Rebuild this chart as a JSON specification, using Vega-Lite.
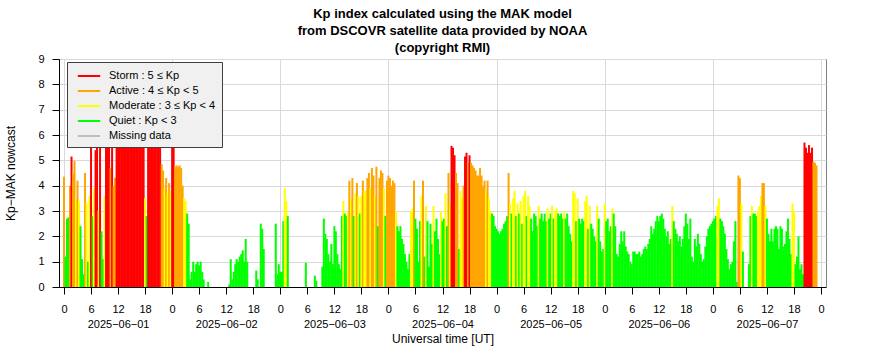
{
"$schema": "https://vega.github.io/schema/vega-lite/v6.json",
"width": 767,
"height": 228,
"autosize": {"type": "none"},
"padding": {"left": 59, "top": 59, "right": 60, "bottom": 73},
"background": "white",
"title": {
  "text": ["Kp index calculated using the MAK model", "from DSCOVR satellite data provided by NOAA", "(copyright RMI)"],
  "font": "Liberation Sans", "fontSize": 13, "fontWeight": "bold", "color": "#000000",
  "lineHeight": 17, "anchor": "middle", "baseline": "bottom", "offset": -15
},
"layer": [
  {
    "data": {"values": [
{"h":0,"kp":4.35},{"h":0.33,"kp":1.2},{"h":0.67,"kp":2.7},
{"h":1,"kp":2.75},{"h":1.33,"kp":4.0},{"h":1.67,"kp":5.15},
{"h":2,"kp":4.5},{"h":2.33,"kp":4.98},{"h":2.67,"kp":3.5},
{"h":3,"kp":4.2},{"h":3.33,"kp":3.4},{"h":3.67,"kp":2.4},
{"h":4,"kp":1.1},{"h":4.33,"kp":0.5},{"h":4.67,"kp":4.5},
{"h":5,"kp":3.35},{"h":5.33,"kp":1.0},{"h":5.67,"kp":3.6},
{"h":6,"kp":6.2},{"h":6.33,"kp":2.8},{"h":6.67,"kp":3.9},
{"h":7,"kp":5.4},{"h":7.33,"kp":6.3},{"h":7.67,"kp":3.0},
{"h":8,"kp":6.1},{"h":8.33,"kp":2.2},{"h":8.67,"kp":1.1},
{"h":9,"kp":3.6},{"h":9.33,"kp":6.0},{"h":9.67,"kp":6.4},
{"h":10,"kp":6.3},{"h":10.33,"kp":4.7},{"h":10.67,"kp":6.0},
{"h":11,"kp":4.0},{"h":11.33,"kp":4.3},{"h":11.67,"kp":6.5},
{"h":12,"kp":6.6},{"h":12.33,"kp":6.9},{"h":12.67,"kp":7.1},
{"h":13,"kp":7.0},{"h":13.33,"kp":6.8},{"h":13.67,"kp":7.2},
{"h":14,"kp":7.4},{"h":14.33,"kp":7.1},{"h":14.67,"kp":6.9},
{"h":15,"kp":7.3},{"h":15.33,"kp":7.0},{"h":15.67,"kp":6.7},
{"h":16,"kp":6.8},{"h":16.33,"kp":6.5},{"h":16.67,"kp":6.9},
{"h":17,"kp":6.6},{"h":17.33,"kp":6.3},{"h":17.67,"kp":6.1},
{"h":18,"kp":3.5},{"h":18.33,"kp":2.8},{"h":18.67,"kp":6.3},
{"h":19,"kp":6.5},{"h":19.33,"kp":6.8},{"h":19.67,"kp":7.1},
{"h":20,"kp":6.9},{"h":20.33,"kp":6.6},{"h":20.67,"kp":6.3},
{"h":21,"kp":6.2},{"h":21.33,"kp":6.0},{"h":21.67,"kp":4.85},
{"h":22,"kp":4.6},{"h":22.33,"kp":3.9},{"h":22.67,"kp":4.3},
{"h":23,"kp":3.7},{"h":23.33,"kp":4.1},{"h":23.67,"kp":3.8},
{"h":24,"kp":6.0},{"h":24.33,"kp":5.8},{"h":24.67,"kp":4.75},
{"h":25,"kp":4.8},{"h":25.33,"kp":4.75},{"h":25.67,"kp":4.8},
{"h":26,"kp":4.7},{"h":26.33,"kp":4.0},{"h":26.67,"kp":3.5},
{"h":27,"kp":3.4},{"h":27.33,"kp":2.9},{"h":27.67,"kp":2.5},
{"h":28,"kp":0.3},{"h":28.33,"kp":0.6},{"h":28.67,"kp":1.0},
{"h":29,"kp":0.6},{"h":29.33,"kp":0.9},{"h":29.67,"kp":1.0},
{"h":30,"kp":0.85},{"h":30.33,"kp":1.0},{"h":30.67,"kp":0.6},
{"h":31,"kp":0.3},
{"h":32,"kp":0.2},
{"h":36.67,"kp":0.1},
{"h":37,"kp":1.1},{"h":37.33,"kp":0.3},{"h":37.67,"kp":0.6},
{"h":38,"kp":0.9},{"h":38.33,"kp":1.1},{"h":38.67,"kp":1.0},
{"h":39,"kp":1.2},{"h":39.33,"kp":1.3},{"h":39.67,"kp":1.45},
{"h":40,"kp":1.0},{"h":40.33,"kp":1.9},{"h":40.67,"kp":1.0},
{"h":42.67,"kp":0.65},
{"h":43,"kp":0.3},{"h":43.67,"kp":2.5},
{"h":44,"kp":2.3},{"h":44.33,"kp":1.5},
{"h":47,"kp":2.5},{"h":47.33,"kp":0.5},{"h":47.67,"kp":0.9},
{"h":48,"kp":0.6},{"h":48.33,"kp":0.6},{"h":48.67,"kp":2.6},
{"h":49,"kp":3.9},{"h":49.33,"kp":3.4},{"h":49.67,"kp":2.8},
{"h":53.67,"kp":0.95},
{"h":55.67,"kp":0.45},
{"h":56,"kp":0.25},
{"h":57.33,"kp":0.8},{"h":57.67,"kp":2.7},
{"h":58,"kp":2.1},{"h":58.33,"kp":1.9},{"h":58.67,"kp":1.3},
{"h":59,"kp":1.0},{"h":59.33,"kp":1.7},{"h":59.67,"kp":0.9},
{"h":60,"kp":2.4},{"h":60.33,"kp":2.2},{"h":60.67,"kp":1.3},
{"h":61,"kp":0.9},{"h":61.33,"kp":0.7},{"h":61.67,"kp":2.8},
{"h":62,"kp":3.4},{"h":62.33,"kp":2.9},{"h":62.67,"kp":2.8},
{"h":63,"kp":3.0},{"h":63.33,"kp":4.2},{"h":63.67,"kp":3.5},
{"h":64,"kp":4.3},{"h":64.33,"kp":2.8},{"h":64.67,"kp":3.7},
{"h":65,"kp":4.1},{"h":65.33,"kp":3.6},{"h":65.67,"kp":2.9},
{"h":66,"kp":3.6},{"h":66.33,"kp":4.2},{"h":66.67,"kp":3.8},
{"h":67,"kp":3.8},{"h":67.33,"kp":4.3},{"h":67.67,"kp":4.5},
{"h":68,"kp":3.9},{"h":68.33,"kp":4.7},{"h":68.67,"kp":4.4},
{"h":69,"kp":3.6},{"h":69.33,"kp":4.75},{"h":69.67,"kp":2.4},
{"h":70,"kp":4.3},{"h":70.33,"kp":4.6},{"h":70.67,"kp":4.5},
{"h":71,"kp":3.9},{"h":71.33,"kp":2.8},{"h":71.67,"kp":4.2},
{"h":72,"kp":4.4},{"h":72.33,"kp":4.3},{"h":72.67,"kp":4.0},
{"h":73,"kp":4.2},{"h":73.33,"kp":4.1},{"h":73.67,"kp":3.0},
{"h":74,"kp":2.4},{"h":74.33,"kp":2.2},{"h":74.67,"kp":2.4},
{"h":75,"kp":1.9},{"h":75.33,"kp":1.7},{"h":75.67,"kp":1.3},
{"h":76,"kp":1.0},{"h":76.33,"kp":0.7},{"h":76.67,"kp":1.3},
{"h":77,"kp":3.0},{"h":77.33,"kp":3.1},{"h":77.67,"kp":4.2},
{"h":78,"kp":2.7},{"h":78.33,"kp":2.3},{"h":78.67,"kp":1.0},
{"h":79,"kp":2.6},{"h":79.33,"kp":3.6},{"h":79.67,"kp":4.2},
{"h":80,"kp":1.2},{"h":80.33,"kp":3.2},{"h":80.67,"kp":2.6},
{"h":81,"kp":0.8},{"h":81.33,"kp":2.5},{"h":81.67,"kp":1.7},
{"h":82,"kp":3.2},{"h":82.33,"kp":2.2},{"h":82.67,"kp":2.7},
{"h":83,"kp":1.9},{"h":83.33,"kp":1.3},{"h":83.67,"kp":3.0},
{"h":84,"kp":2.6},{"h":84.33,"kp":2.7},{"h":84.67,"kp":3.7},
{"h":85,"kp":2.4},{"h":85.33,"kp":4.5},{"h":85.67,"kp":3.3},
{"h":86,"kp":5.57},{"h":86.33,"kp":5.5},{"h":86.67,"kp":5.2},
{"h":87,"kp":4.5},{"h":87.33,"kp":4.1},{"h":87.67,"kp":1.5},
{"h":88,"kp":3.8},{"h":88.33,"kp":3.5},{"h":88.67,"kp":4.0},
{"h":89,"kp":5.15},{"h":89.33,"kp":5.3},{"h":89.67,"kp":4.9},
{"h":90,"kp":5.2},{"h":90.33,"kp":4.9},{"h":90.67,"kp":4.8},
{"h":91,"kp":4.7},{"h":91.33,"kp":4.6},{"h":91.67,"kp":4.4},
{"h":92,"kp":4.4},{"h":92.33,"kp":4.7},{"h":92.67,"kp":4.4},
{"h":93,"kp":4.0},{"h":93.33,"kp":4.2},{"h":93.67,"kp":3.8},
{"h":94,"kp":4.2},{"h":94.33,"kp":3.5},{"h":94.67,"kp":3.0},
{"h":95,"kp":2.9},{"h":95.33,"kp":2.8},{"h":95.67,"kp":2.4},
{"h":96,"kp":2.3},{"h":96.33,"kp":2.2},{"h":96.67,"kp":2.1},
{"h":97,"kp":2.2},{"h":97.33,"kp":2.3},{"h":97.67,"kp":2.5},
{"h":98,"kp":2.6},{"h":98.33,"kp":2.8},{"h":98.67,"kp":4.5},
{"h":99,"kp":3.3},{"h":99.33,"kp":2.9},{"h":99.67,"kp":3.5},
{"h":100,"kp":3.8},{"h":100.33,"kp":2.8},{"h":100.67,"kp":3.3},
{"h":101,"kp":2.9},{"h":101.33,"kp":3.4},{"h":101.67,"kp":2.5},
{"h":102,"kp":3.6},{"h":102.33,"kp":3.8},{"h":102.67,"kp":2.8},
{"h":103,"kp":3.6},{"h":103.33,"kp":3.2},{"h":103.67,"kp":2.7},
{"h":104,"kp":2.2},{"h":104.33,"kp":2.9},{"h":104.67,"kp":2.8},
{"h":105,"kp":2.4},{"h":105.33,"kp":3.2},{"h":105.67,"kp":2.7},
{"h":106,"kp":2.9},{"h":106.33,"kp":2.6},{"h":106.67,"kp":2.9},
{"h":107,"kp":2.6},{"h":107.33,"kp":3.1},{"h":107.67,"kp":2.7},
{"h":108,"kp":2.9},{"h":108.33,"kp":3.2},{"h":108.67,"kp":2.7},
{"h":109,"kp":3.0},{"h":109.33,"kp":3.1},{"h":109.67,"kp":2.9},
{"h":110,"kp":2.8},{"h":110.33,"kp":2.9},{"h":110.67,"kp":2.7},
{"h":111,"kp":3.0},{"h":111.33,"kp":2.7},{"h":111.67,"kp":2.9},
{"h":112,"kp":2.4},{"h":112.33,"kp":2.1},{"h":112.67,"kp":1.8},
{"h":113,"kp":3.8},{"h":113.33,"kp":3.7},{"h":113.67,"kp":2.6},
{"h":114,"kp":3.5},{"h":114.33,"kp":2.7},{"h":114.67,"kp":2.5},
{"h":115,"kp":2.7},{"h":115.33,"kp":2.6},{"h":115.67,"kp":3.4},
{"h":116,"kp":3.6},{"h":116.33,"kp":2.3},{"h":116.67,"kp":3.2},
{"h":117,"kp":2.5},{"h":117.33,"kp":2.3},{"h":117.67,"kp":2.0},
{"h":118,"kp":1.8},{"h":118.33,"kp":3.2},{"h":118.67,"kp":2.7},
{"h":119,"kp":1.8},{"h":119.33,"kp":1.4},{"h":119.67,"kp":1.5},
{"h":120,"kp":3.3},{"h":120.33,"kp":2.6},{"h":120.67,"kp":2.7},
{"h":121,"kp":2.2},{"h":121.33,"kp":2.4},{"h":121.67,"kp":3.1},
{"h":122,"kp":2.9},{"h":122.33,"kp":2.4},{"h":122.67,"kp":1.3},
{"h":123,"kp":1.2},{"h":123.33,"kp":1.7},{"h":123.67,"kp":2.2},
{"h":124,"kp":1.8},{"h":124.33,"kp":2.2},{"h":124.67,"kp":1.6},
{"h":125,"kp":1.4},{"h":125.33,"kp":1.3},{"h":125.67,"kp":1.0},
{"h":126,"kp":0.9},{"h":126.33,"kp":1.4},{"h":126.67,"kp":1.4},
{"h":127,"kp":1.3},{"h":127.33,"kp":1.3},{"h":127.67,"kp":1.4},
{"h":128,"kp":1.2},{"h":128.33,"kp":1.3},{"h":128.67,"kp":1.5},
{"h":129,"kp":1.6},{"h":129.33,"kp":1.5},{"h":129.67,"kp":1.7},
{"h":130,"kp":1.9},{"h":130.33,"kp":2.4},{"h":130.67,"kp":2.1},
{"h":131,"kp":2.3},{"h":131.33,"kp":2.6},{"h":131.67,"kp":2.8},
{"h":132,"kp":2.6},{"h":132.33,"kp":2.8},{"h":132.67,"kp":2.9},
{"h":133,"kp":2.7},{"h":133.33,"kp":2.3},{"h":133.67,"kp":2.0},
{"h":134,"kp":2.2},{"h":134.33,"kp":1.7},{"h":134.67,"kp":1.9},
{"h":135,"kp":3.2},{"h":135.33,"kp":2.6},{"h":135.67,"kp":2.3},
{"h":136,"kp":2.1},{"h":136.33,"kp":1.8},{"h":136.67,"kp":2.0},
{"h":137,"kp":1.6},{"h":137.33,"kp":1.9},{"h":137.67,"kp":2.4},
{"h":138,"kp":2.9},{"h":138.33,"kp":2.5},{"h":138.67,"kp":1.9},
{"h":139,"kp":2.7},{"h":139.33,"kp":1.2},{"h":139.67,"kp":1.0},
{"h":140,"kp":1.9},{"h":140.33,"kp":1.6},{"h":140.67,"kp":2.1},
{"h":141,"kp":1.7},{"h":141.33,"kp":1.3},{"h":141.67,"kp":1.0},
{"h":142,"kp":1.1},{"h":142.33,"kp":1.6},{"h":142.67,"kp":2.0},
{"h":143,"kp":2.3},{"h":143.33,"kp":2.4},{"h":143.67,"kp":2.5},
{"h":144,"kp":2.6},{"h":144.33,"kp":2.7},{"h":144.67,"kp":2.8},
{"h":145,"kp":3.2},{"h":145.33,"kp":3.5},{"h":145.67,"kp":2.7},
{"h":146,"kp":2.6},{"h":146.33,"kp":2.4},{"h":146.67,"kp":2.1},
{"h":147,"kp":1.5},{"h":147.33,"kp":1.1},{"h":147.67,"kp":0.7},
{"h":148,"kp":0.9},{"h":148.33,"kp":1.0},{"h":148.67,"kp":1.8},
{"h":149,"kp":2.6},{"h":149.33,"kp":0.2},{"h":149.67,"kp":4.4},
{"h":150,"kp":4.3},{"h":150.33,"kp":3.3},{"h":150.67,"kp":1.4},
{"h":152,"kp":0.9},{"h":152.33,"kp":2.8},{"h":152.67,"kp":3.2},
{"h":153,"kp":2.9},{"h":153.33,"kp":2.9},{"h":153.67,"kp":2.8},
{"h":154,"kp":3.0},{"h":154.33,"kp":3.2},{"h":154.67,"kp":3.6},
{"h":155,"kp":4.1},{"h":155.33,"kp":4.1},{"h":155.67,"kp":3.2},
{"h":156,"kp":2.7},{"h":156.33,"kp":2.1},{"h":156.67,"kp":1.8},
{"h":157,"kp":2.3},{"h":157.33,"kp":1.8},{"h":157.67,"kp":2.3},
{"h":158,"kp":2.4},{"h":158.33,"kp":2.3},{"h":158.67,"kp":1.5},
{"h":159,"kp":2.4},{"h":159.33,"kp":2.3},{"h":159.67,"kp":1.6},
{"h":160,"kp":1.7},{"h":160.33,"kp":2.2},{"h":160.67,"kp":2.7},
{"h":161,"kp":1.9},{"h":161.33,"kp":1.3},{"h":161.67,"kp":3.3},
{"h":162,"kp":3.0},{"h":162.33,"kp":0.9},{"h":162.67,"kp":1.2},
{"h":163,"kp":2.0},{"h":163.33,"kp":0.7},{"h":163.67,"kp":0.9},
{"h":164,"kp":0.5},{"h":164.33,"kp":5.7},{"h":164.67,"kp":5.5},
{"h":165,"kp":5.3},{"h":165.33,"kp":5.6},{"h":165.67,"kp":5.3},
{"h":166,"kp":5.5},{"h":166.33,"kp":4.95},{"h":166.67,"kp":4.9},
{"h":167,"kp":4.8}
    ]},
    "mark": {"type": "bar", "width": 2},
    "encoding": {
      "x": {
        "field": "h", "type": "quantitative",
        "scale": {"domain": [0, 168], "nice": false, "zero": false},
        "axis": {
          "values": [0,6,12,18,24,30,36,42,48,54,60,66,72,78,84,90,96,102,108,114,120,126,132,138,144,150,156,162,168],
          "title": "Universal time [UT]",
          "grid": true,
          "gridColor": "#d9d9d9",
          "gridWidth": 1,
          "gridOpacity": {"condition": {"test": "datum.value % 24 === 0", "value": 1}, "value": 0},
          "labelExpr": "datum.value % 24 === 12 ? ['12', ['2025−06−01','2025−06−02','2025−06−03','2025−06−04','2025−06−05','2025−06−06','2025−06−07'][floor(datum.value / 24)]] : '' + (datum.value % 24)",
          "labelLineHeight": 15,
          "labelPadding": 9,
          "labelFlush": false,
          "labelOverlap": false,
          "labelBound": false,
          "labelFontSize": 11,
          "tickSize": 7,
          "titlePadding": 4,
          "titleFontSize": 12
        }
      },
      "y": {
        "field": "kp", "type": "quantitative",
        "scale": {"domain": [0, 9], "nice": false},
        "axis": {
          "values": [0,1,2,3,4,5,6,7,8,9],
          "title": "Kp−MAK nowcast",
          "grid": true,
          "gridColor": "#d9d9d9",
          "gridWidth": 1,
          "labelPadding": 8,
          "labelFlush": false,
          "labelFontSize": 11,
          "tickSize": 7,
          "titlePadding": 20,
          "titleFontSize": 12
        }
      },
      "color": {
        "field": "kp", "type": "quantitative",
        "scale": {"type": "threshold", "domain": [3, 4, 5], "range": ["#00FF00", "#FFFF00", "#FFA500", "#FF0000"]},
        "legend": null
      }
    }
  },
  {
    "data": {"values": [
      {"cat": "Storm : 5 ≤ Kp"},
      {"cat": "Active : 4 ≤ Kp < 5"},
      {"cat": "Moderate : 3 ≤ Kp < 4"},
      {"cat": "Quiet : Kp < 3"},
      {"cat": "Missing data"}
    ]},
    "mark": {"type": "point", "opacity": 0},
    "encoding": {
      "color": {
        "field": "cat", "type": "nominal",
        "scale": {
          "domain": ["Storm : 5 ≤ Kp", "Active : 4 ≤ Kp < 5", "Moderate : 3 ≤ Kp < 4", "Quiet : Kp < 3", "Missing data"],
          "range": ["#FF0000", "#FFA500", "#FFFF00", "#00FF00", "#BEBEBE"]
        },
        "legend": {
          "title": null,
          "orient": "none",
          "legendX": 8,
          "legendY": 3,
          "fillColor": "#F0F0F0",
          "strokeColor": "#404040",
          "padding": 6,
          "symbolType": "M-1.6,0H1.6",
          "symbolSize": 196,
          "symbolStrokeWidth": 2,
          "symbolOpacity": 1,
          "symbolOffset": 8,
          "labelFontSize": 11,
          "labelColor": "#000000",
          "labelOffset": 12,
          "rowPadding": 2
        }
      }
    }
  }
],
"resolve": {"scale": {"color": "independent"}},
"config": {
  "font": "Liberation Sans",
  "view": {"stroke": "#808080", "strokeWidth": 1},
  "axis": {
    "domainColor": "#000000",
    "tickColor": "#000000",
    "labelColor": "#000000",
    "titleColor": "#000000",
    "titleFontWeight": "normal",
    "labelFont": "Liberation Sans",
    "titleFont": "Liberation Sans"
  },
  "legend": {"labelFont": "Liberation Sans"}
}
}
